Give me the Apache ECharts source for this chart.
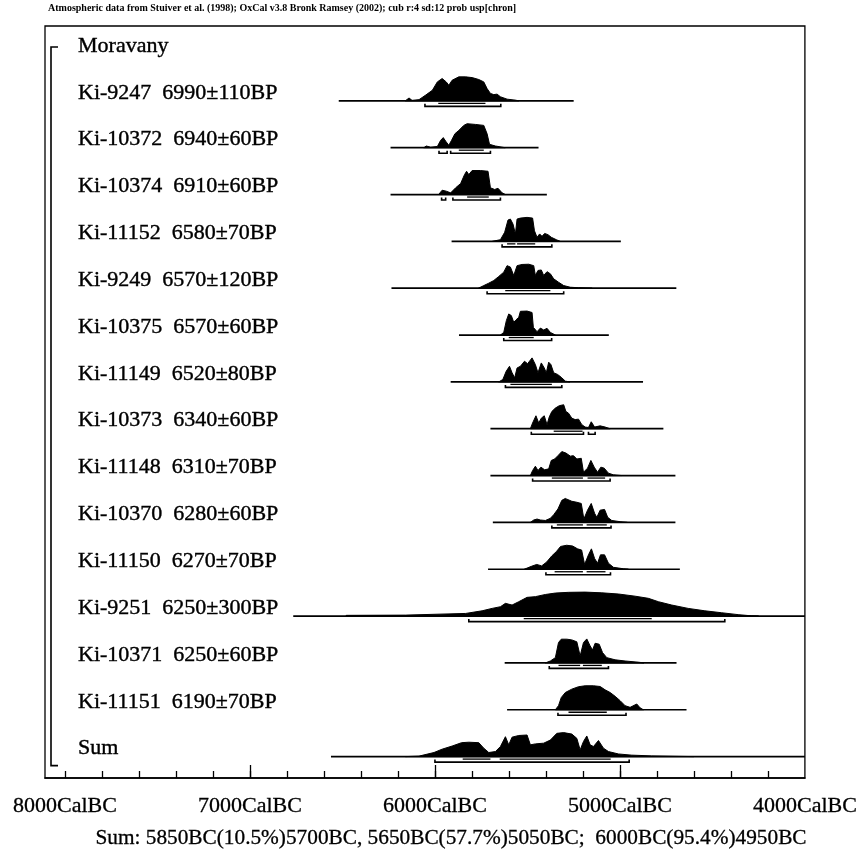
<!DOCTYPE html>
<html><head><meta charset="utf-8">
<script src="https://cdn.jsdelivr.net/npm/echarts@6/dist/echarts.min.js"></script>
<style>html,body{margin:0;padding:0;background:#fff}#c{width:860px;height:856px}</style>
</head><body><div id="c"></div>
<script>
// ---------- data (years BC) ----------
const headerText = 'Atmospheric data from Stuiver et al. (1998); OxCal v3.8 Bronk Ramsey (2002); cub r:4 sd:12 prob usp[chron]';
const footerText = 'Sum: 5850BC(10.5%)5700BC, 5650BC(57.7%)5050BC;  6000BC(95.4%)4950BC';
const rowLabels = ['Moravany','Ki-9247  6990\u00b1110BP','Ki-10372  6940\u00b160BP','Ki-10374  6910\u00b160BP','Ki-11152  6580\u00b170BP','Ki-9249  6570\u00b1120BP','Ki-10375  6570\u00b160BP','Ki-11149  6520\u00b180BP','Ki-10373  6340\u00b160BP','Ki-11148  6310\u00b170BP','Ki-10370  6280\u00b160BP','Ki-11150  6270\u00b170BP','Ki-9251  6250\u00b1300BP','Ki-10371  6250\u00b160BP','Ki-11151  6190\u00b170BP','Sum'];
const lineSpans = [null,[6520,5250],[6240,5440],[6240,5395],[5910,4995],[6235,4695],[5870,5060],[5915,4875],[5700,4765],[5700,4700],[5687,4700],[5713,4676],[6766,4000],[5623,4694],[5610,4640],[6562,4000]];
const ranges68 = [null,[[5982,5727]],[[5871,5736]],[[5826,5709]],[[5610,5565],[5556,5458]],[[5620,5376]],[[5601,5466]],[[5592,5368]],[[5358,5202]],[[5368,5200],[5175,5080]],[[5341,5200],[5180,5071]],[[5353,5200],[5180,5078]],[[5520,4828]],[[5332,5215],[5200,5098]],[[5278,5071]],[[5850,5700],[5650,5050]]];
const ranges95 = [null,[[6054,5644]],[[5978,5934],[5915,5700]],[[5964,5942],[5903,5646]],[[5637,5368]],[[5718,5304]],[[5628,5369]],[[5619,5314]],[[5479,5197],[5170,5134]],[[5472,5053]],[[5368,5048]],[[5400,5051]],[[5817,4433]],[[5382,5062]],[[5335,4967]],[[6000,4950]]];
const dKi9247 = [[6160,0],[6140,0.12],[6124,0.02],[6086,0.05],[6050,0.24],[6014,0.44],[5987,0.79],[5961,0.93],[5939,0.79],[5925,0.65],[5907,0.86],[5871,1.0],[5834,1.0],[5799,0.97],[5763,0.89],[5736,0.79],[5718,0.51],[5700,0.31],[5682,0.26],[5664,0.28],[5646,0.17],[5610,0.07],[5565,0.03],[5547,0]];
const dKi10372 = [[6060,0],[6047,0.07],[6023,0.02],[5987,0.05],[5969,0.31],[5955,0.42],[5939,0.24],[5925,0.10],[5910,0.31],[5892,0.58],[5871,0.72],[5844,0.93],[5826,1.0],[5781,0.97],[5736,0.93],[5718,0.58],[5705,0.14],[5673,0.07],[5628,0.01],[5620,0]];
const dKi10374 = [[5980,0],[5961,0.18],[5939,0.14],[5915,0.07],[5888,0.28],[5861,0.46],[5840,0.83],[5829,0.97],[5817,0.83],[5799,1.0],[5754,1.0],[5713,0.97],[5700,0.28],[5677,0.21],[5659,0.26],[5637,0.07],[5619,0]];
const dKi11152 = [[5690,0],[5646,0.07],[5623,0.38],[5605,0.89],[5592,0.93],[5578,0.72],[5565,0.31],[5556,0.93],[5538,0.97],[5502,1.0],[5472,0.97],[5462,0.44],[5448,0.17],[5434,0.31],[5421,0.21],[5407,0.33],[5389,0.28],[5371,0.17],[5341,0.06],[5323,0]];
const dKi9249 = [[5765,0],[5736,0.11],[5709,0.21],[5682,0.32],[5655,0.49],[5628,0.67],[5610,0.94],[5592,0.88],[5574,0.53],[5556,0.94],[5529,0.99],[5493,1.0],[5466,0.94],[5457,0.53],[5443,0.74],[5425,0.76],[5412,0.53],[5394,0.69],[5376,0.60],[5358,0.39],[5332,0.25],[5304,0.11],[5268,0.04],[5224,0.02],[5150,0]];
const dKi10375 = [[5646,0],[5628,0.11],[5614,0.6],[5601,0.88],[5587,0.81],[5574,0.53],[5562,0.63],[5547,0.74],[5538,0.99],[5502,1.0],[5475,0.94],[5468,0.32],[5448,0.14],[5430,0.29],[5412,0.21],[5394,0.28],[5376,0.11],[5349,0]];
const dKi11149 = [[5655,0],[5633,0.10],[5615,0.44],[5597,0.65],[5583,0.38],[5569,0.17],[5556,0.58],[5538,0.65],[5516,0.86],[5499,0.76],[5475,1.0],[5457,0.72],[5443,0.38],[5425,0.79],[5409,0.58],[5398,0.38],[5385,0.82],[5373,0.72],[5358,0.38],[5337,0.31],[5317,0.19],[5295,0.03],[5270,0]];
const dKi10373 = [[5484,0],[5472,0.24],[5454,0.54],[5439,0.24],[5425,0.44],[5409,0.54],[5394,0.17],[5382,0.49],[5368,0.72],[5349,0.86],[5328,0.96],[5304,1.0],[5292,0.72],[5278,0.65],[5260,0.44],[5242,0.38],[5224,0.40],[5206,0.17],[5188,0.07],[5170,0.05],[5155,0.29],[5137,0.07],[5107,0.12],[5080,0.07],[5053,0]];
const dKi11148 = [[5484,0],[5472,0.21],[5457,0.39],[5443,0.21],[5427,0.35],[5407,0.24],[5385,0.28],[5371,0.63],[5353,0.69],[5335,0.83],[5314,1.0],[5292,0.94],[5268,0.81],[5251,0.83],[5233,0.69],[5209,0.72],[5197,0.14],[5175,0.31],[5157,0.63],[5139,0.35],[5121,0.14],[5103,0.35],[5085,0.31],[5062,0.10],[5035,0.03],[4990,0]];
const dKi10370 = [[5484,0],[5466,0.10],[5448,0.14],[5430,0.10],[5403,0.08],[5376,0.17],[5358,0.32],[5335,0.56],[5314,0.92],[5295,1.0],[5287,0.97],[5260,0.88],[5233,0.84],[5209,0.79],[5195,0.14],[5175,0.51],[5155,0.79],[5137,0.38],[5125,0.21],[5107,0.51],[5083,0.54],[5066,0.21],[5044,0.08],[4999,0.03],[4960,0]];
const dKi11150 = [[5517,0],[5479,0.12],[5450,0.2],[5423,0.14],[5396,0.3],[5369,0.55],[5342,0.75],[5321,0.95],[5288,1.0],[5256,0.97],[5229,0.85],[5207,0.8],[5191,0.2],[5170,0.6],[5154,0.85],[5137,0.45],[5121,0.25],[5105,0.6],[5083,0.6],[5062,0.25],[5035,0.08],[4981,0.02],[4954,0]];
const dKi9251 = [[6480,0.03],[6158,0.04],[5978,0.08],[5834,0.11],[5745,0.22],[5691,0.32],[5646,0.39],[5619,0.53],[5583,0.46],[5547,0.6],[5502,0.78],[5457,0.81],[5403,0.9],[5349,0.96],[5278,0.99],[5188,1.0],[5098,0.97],[5008,0.92],[4918,0.83],[4846,0.74],[4792,0.6],[4720,0.46],[4631,0.32],[4541,0.22],[4451,0.14],[4361,0.06],[4289,0.01],[4250,0]];
const dKi10371 = [[5403,0],[5376,0.08],[5349,0.22],[5332,0.85],[5317,0.99],[5287,0.99],[5260,0.96],[5233,0.88],[5215,0.29],[5197,0.85],[5179,1.0],[5161,0.71],[5148,0.54],[5134,0.82],[5112,0.78],[5094,0.43],[5071,0.22],[5026,0.13],[4972,0.08],[4900,0.03],[4870,0]];
const dKi11151 = [[5349,0],[5332,0.17],[5317,0.51],[5295,0.72],[5260,0.86],[5224,0.96],[5188,1.0],[5143,1.0],[5107,0.97],[5080,0.83],[5053,0.72],[5026,0.56],[4999,0.38],[4972,0.17],[4945,0.10],[4909,0.24],[4891,0.08],[4873,0]];
const dSum = [[6160,0],[6086,0.02],[6005,0.17],[5961,0.31],[5907,0.44],[5856,0.58],[5817,0.6],[5763,0.58],[5736,0.35],[5709,0.17],[5673,0.21],[5646,0.42],[5619,0.83],[5601,0.49],[5583,0.81],[5547,0.88],[5502,0.9],[5484,0.49],[5457,0.53],[5412,0.56],[5376,0.69],[5341,0.97],[5304,1.0],[5260,0.94],[5233,0.76],[5215,0.28],[5197,0.63],[5179,0.86],[5161,0.49],[5143,0.42],[5116,0.67],[5089,0.35],[5062,0.21],[5008,0.11],[4936,0.06],[4828,0.03],[4685,0.01],[4600,0]];
const densities = [null,dKi9247,dKi10372,dKi10374,dKi11152,dKi9249,dKi10375,dKi11149,dKi10373,dKi11148,dKi10370,dKi11150,dKi9251,dKi10371,dKi11151,dSum];
const minorTickYears = [8000,7800,7600,7400,7200,7000,6800,6600,6400,6200,6000,5800,5600,5400,5200,5000,4800,4600,4400,4200];
const majorTickYears = [7000,6000,5000];
const axisLabelYears = [8000,7000,6000,5000,4000];

// ---------- layout / style constants ----------
const FONT = '"Liberation Serif","Times New Roman",serif';
const BASE_OFF = 0.171;   // baseline below label centre (row units)
const PEAK = 0.512;       // peak height (row units)

const chart = echarts.init(document.getElementById('c'), null, {renderer:'canvas'});

function renderRow(params, api) {
  const i = params.dataIndex;
  const cs = params.coordSys;
  const children = [];
  const yLab = api.coord([-8000, i])[1];
  children.push({type:'text', style:{text: rowLabels[i], x: cs.x + 33, y: yLab, verticalAlign:'middle', align:'left', font: '22px ' + FONT, fill:'#000', stroke:'#000', lineWidth:0.4}});
  const d = densities[i];
  if (d) {
    const base = i + BASE_OFF;
    const span = lineSpans[i];
    const a = api.coord([-span[0], base]), b = api.coord([-span[1], base]);
    children.push({type:'line', shape:{x1:a[0], y1:a[1], x2:b[0], y2:b[1]}, style:{stroke:'#000', lineWidth:1.7}});
    const pts = [api.coord([-d[0][0], base])];
    d.forEach(p => pts.push(api.coord([-p[0], base - p[1] * PEAK])));
    pts.push(api.coord([-d[d.length - 1][0], base]));
    children.push({type:'polygon', shape:{points: pts}, style:{fill:'#000', stroke:'#000', lineWidth:1}});
    ranges68[i].forEach(r => {
      const p = api.coord([-r[0], base]), q = api.coord([-r[1], base]);
      children.push({type:'line', shape:{x1:p[0], y1:p[1] + 2.5, x2:q[0], y2:q[1] + 2.5}, style:{stroke:'#000', lineWidth:1.3}});
    });
    ranges95[i].forEach(r => {
      const p = api.coord([-r[0], base]), q = api.coord([-r[1], base]);
      const y = p[1] + 5.5;
      children.push({type:'polyline', shape:{points:[[p[0], y - 2.5],[p[0], y],[q[0], y],[q[0], y - 2.5]]}, style:{stroke:'#000', lineWidth:1.6, fill:null}});
    });
  }
  return {type:'group', children};
}

function renderBracket(params, api) {
  const cs = params.coordSys;
  const top = api.coord([-8000, 0])[1] + 1;
  const bot = api.coord([-8000, rowLabels.length - 1])[1] + 17;
  const x = cs.x + 6;
  return {type:'polyline', shape:{points:[[x + 7, top],[x, top],[x, bot],[x + 7, bot]]}, style:{stroke:'#000', lineWidth:1.6, fill:null}};
}

chart.setOption({
  animation: false,
  backgroundColor: '#fff',
  grid: {left:45, right:53, top:26, bottom:78, show:true, borderColor:'#000', borderWidth:1.3, backgroundColor:'transparent'},
  xAxis: [
    {type:'value', min:-8108, max:-4000, position:'bottom',
     axisLine:{show:true, onZero:false, lineStyle:{color:'#000', width:1.6}},
     axisTick:{show:true, inside:true, length:7, customValues: minorTickYears.map(v => -v), lineStyle:{color:'#000', width:1.3}},
     axisLabel:{show:false}, splitLine:{show:false}},
    {type:'value', min:-8108, max:-4000, position:'bottom',
     axisLine:{show:false, onZero:false},
     axisTick:{show:true, inside:true, length:13, customValues: majorTickYears.map(v => -v), lineStyle:{color:'#000', width:1.3}},
     axisLabel:{show:true, customValues: axisLabelYears.map(v => -v), formatter: v => Math.round(-v) + 'CalBC', margin:17, color:'#000', fontFamily: FONT, fontSize:22, textBorderColor:'#000', textBorderWidth:0.3},
     splitLine:{show:false}}
  ],
  yAxis: {type:'value', inverse:true, min:-0.427, max:15.628, show:false},
  graphic: [
    {type:'text', x:48, y:3, style:{text: headerText, font:'bold 10px ' + FONT, fill:'#000'}},
    {type:'text', x:451, y:838, style:{text: footerText, font:'21.3px ' + FONT, fill:'#000', stroke:'#000', lineWidth:0.3, align:'center', verticalAlign:'middle'}}
  ],
  series: [
    {type:'custom', name:'rows', renderItem: renderRow, data: rowLabels.map((_, i) => [i]), clip:false, silent:true},
    {type:'custom', name:'bracket', renderItem: renderBracket, data: [[0]], clip:false, silent:true}
  ]
});
</script></body></html>
